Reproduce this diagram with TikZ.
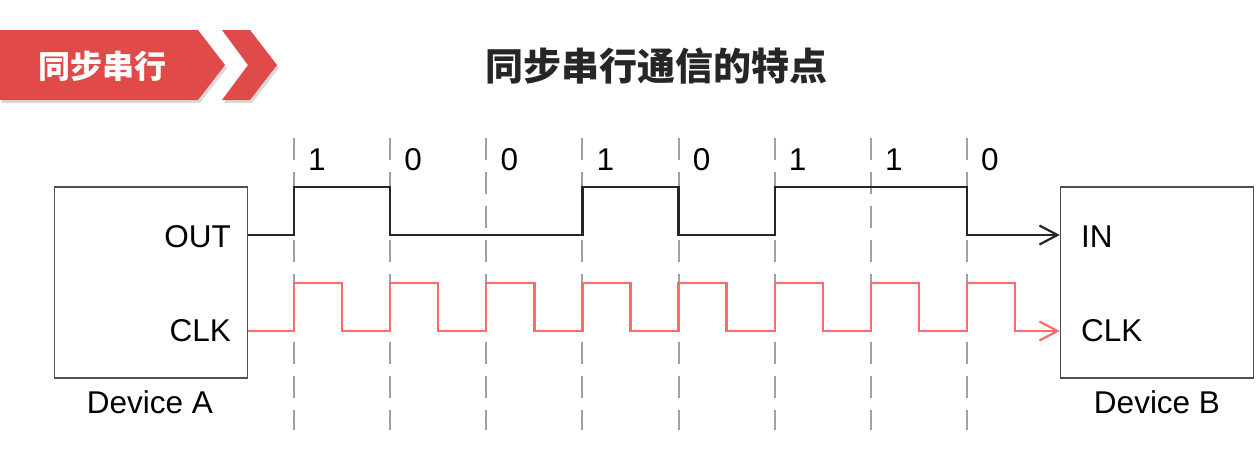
\documentclass[tikz,border=0pt]{standalone}
\usepackage{fontspec}
\setmainfont{Liberation Sans}
\newfontfamily\cjk{Noto Sans CJK SC}
\usetikzlibrary{arrows.meta}
\definecolor{bannerred}{HTML}{E04B4A}
\definecolor{clkred}{HTML}{FF6B6B}
\definecolor{dashgray}{HTML}{A0A0A0}
\definecolor{boxgray}{HTML}{505050}
\definecolor{titlegray}{HTML}{262626}
\tikzset{
  devbox/.style={draw=boxgray, line width=1.4pt, minimum width=193pt, minimum height=191pt, inner sep=0pt},
  lbl/.style={font=\fontsize{31.5}{35}\selectfont, text=black, inner sep=0pt},
  guide/.style={draw=dashgray, line width=2pt, dash pattern=on 22pt off 12pt},
  outsig/.style={draw=black!85, line width=2.4pt},
  clksig/.style={draw=clkred, line width=2.4pt},
  barb/.style={-{Straight Barb[length=18pt, width=19pt, line width=2.2pt]}},
}
\begin{document}
\begin{tikzpicture}[x=1pt, y=-1pt]
\useasboundingbox (0,0) rectangle (1257,455);
% banner
\fill[black!25, opacity=0.6] (2,33) -- (200,33) -- (227,68) -- (200,103) -- (2,103) -- cycle;
\fill[black!25, opacity=0.6] (224,33) -- (252,33) -- (279,68) -- (252,103) -- (224,103) -- (250,68) -- cycle;
\fill[bannerred] (0,30) -- (198,30) -- (225,65) -- (198,100) -- (0,100) -- cycle;
\fill[bannerred] (222,30) -- (250,30) -- (277,65) -- (250,100) -- (222,100) -- (248,65) -- cycle;
\node[text=white, font=\cjk\bfseries\fontsize{32}{36}\selectfont, inner sep=0pt] (bannertext) at (102,66) {同步串行};
\node[text=titlegray, font=\cjk\bfseries\fontsize{38}{42}\selectfont, inner sep=0pt] (title) at (656,66) {同步串行通信的特点};
% devices
\node[devbox] (devA) at (151,282.5) {};
\node[devbox] (devB) at (1157,282.5) {};
\node[lbl, anchor=east] (outlbl) at (231,237) {OUT};
\node[lbl, anchor=east] (clklblA) at (231,331) {CLK};
\node[lbl] (devAlbl) at (150,402) {Device A};
\node[lbl, anchor=west] (inlbl) at (1081,237) {IN};
\node[lbl, anchor=west] (clklblB) at (1081,331) {CLK};
\node[lbl] (devBlbl) at (1157,402) {Device B};
% guides and bit labels
\foreach \i/\b in {0/1,1/0,2/0,3/1,4/0,5/1,6/1,7/0} {
  \pgfmathsetmacro{\xx}{294+96.14*\i}
  \coordinate (g\i) at (\xx,138);
  \draw[guide] (g\i) -- ++(0,292);
  \node[lbl] (bit\i) at (\xx+23,160) {\b};
}
% ports
\coordinate (aout) at (devA.east |- 0,235);
\coordinate (aclk) at (devA.east |- 0,331);
\coordinate (bin) at (devB.west |- 0,235);
\coordinate (bclk) at (devB.west |- 0,331);
% OUT signal: 1 0 0 1 0 1 1 0
\draw[outsig, barb] (aout) -- (294,235) -- (294,187) -- (390.14,187) -- (390.14,235)
  -- (582.42,235) -- (582.42,187) -- (678.56,187) -- (678.56,235) -- (774.7,235)
  -- (774.7,187) -- (966.98,187) -- (966.98,235) -- (bin);
% CLK signal
\draw[clksig, barb] (aclk)
  \foreach \i in {0,...,7} {
    -- (294+96.14*\i,331) -- (294+96.14*\i,283) -- (342.07+96.14*\i,283) -- (342.07+96.14*\i,331)
  } -- (bclk);
\end{tikzpicture}
\end{document}
